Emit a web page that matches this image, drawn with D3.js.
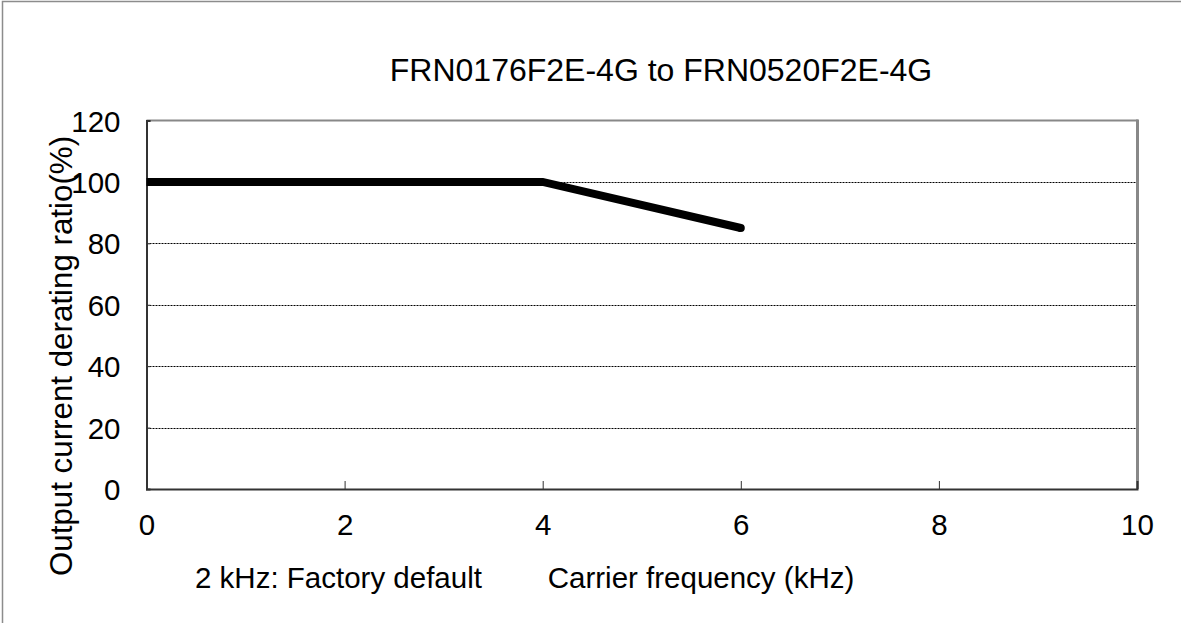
<!DOCTYPE html>
<html><head><meta charset="utf-8">
<script src="https://cdn.jsdelivr.net/npm/d3@7"></script>
<style>
html,body{margin:0;padding:0;background:#fff;}
svg{display:block;font-family:"Liberation Sans",Arial,sans-serif;}
</style></head>
<body>
<svg id="c" width="1181" height="623"></svg>
<script>
const freq = [0, 4, 6];
const ratio = [100, 100, 85];
const xTicks = [0, 2, 4, 6, 8, 10];
const yTicks = [0, 20, 40, 60, 80, 100, 120];
const gridVals = [20, 40, 60, 80, 100];
const title = "FRN0176F2E-4G to FRN0520F2E-4G";
const xLabel = "Carrier frequency (kHz)";
const yLabel = "Output current derating ratio(%)";
const note = "2 kHz: Factory default";

const svg = d3.select("#c");
const L = 146.5, T = 120.5, R = 1137, B = 489;
const x = d3.scaleLinear().domain([0, 10]).range([L, R]);
const y = d3.scaleLinear().domain([0, 120]).range([B, T]);

// outer frame (only left & top visible)
svg.append("path").attr("d", "M2.5,700 L2.5,1.5 L1300,1.5")
  .attr("fill", "none").attr("stroke", "#8c8c8c").attr("stroke-width", 1.5);

// grid
svg.append("g").selectAll("line").data(gridVals).join("line")
  .attr("x1", L).attr("x2", R).attr("y1", d => Math.round(y(d)) + 0.5).attr("y2", d => Math.round(y(d)) + 0.5)
  .attr("stroke", "#000").attr("stroke-width", 1).attr("stroke-dasharray", "2,1");

// top and right border
svg.append("line").attr("x1", L).attr("x2", R + 1).attr("y1", T).attr("y2", T)
  .attr("stroke", "#888").attr("stroke-width", 2);
svg.append("line").attr("x1", R + 0.5).attr("x2", R + 0.5).attr("y1", T - 1).attr("y2", B)
  .attr("stroke", "#888").attr("stroke-width", 3);

// axes
const xAxis = d3.axisBottom(x).tickValues(xTicks).tickSize(-8).tickPadding(46).tickFormat(d3.format("d"));
const gx = svg.append("g").attr("transform", `translate(0,${B})`).call(xAxis);
gx.attr("font-size", null).attr("font-family", null);
gx.select(".domain").attr("stroke", "#333").attr("stroke-width", 2);
gx.selectAll(".tick line").attr("stroke", "#333").attr("stroke-width", 1);
gx.selectAll(".tick text").style("font-size", "29.5px").attr("fill", "#000").attr("dy", "0");

const yAxis = d3.axisLeft(y).tickValues(yTicks).tickSize(-4).tickPadding(26).tickFormat(d3.format("d"));
const gy = svg.append("g").attr("transform", `translate(${L},0)`).call(yAxis);
gy.attr("font-size", null).attr("font-family", null);
gy.select(".domain").attr("stroke", "#333").attr("stroke-width", 2);
gy.selectAll(".tick line").attr("stroke", "#333").attr("stroke-width", 1);
gy.selectAll(".tick text").style("font-size", "29.5px").attr("fill", "#000").attr("dy", "0.36em");

// data line
const pts = freq.map((f, i) => [f, ratio[i]]);
svg.append("path").datum(pts)
  .attr("d", d3.line().x(d => x(d[0])).y(d => y(d[1])))
  .attr("fill", "none").attr("stroke", "#000").attr("stroke-width", 8).attr("stroke-linejoin", "miter");
svg.append("circle").attr("cx", x(freq[freq.length - 1])).attr("cy", y(ratio[ratio.length - 1])).attr("r", 4).attr("fill", "#000");

// texts
svg.append("text").attr("x", 661).attr("y", 81).attr("text-anchor", "middle")
  .style("font-size", "32px").text(title);
svg.append("text").attr("x", 701).attr("y", 588).attr("text-anchor", "middle")
  .style("font-size", "29.5px").text(xLabel);
svg.append("text").attr("x", 195).attr("y", 588).attr("text-anchor", "start")
  .style("font-size", "29.5px").text(note);
svg.append("text").attr("transform", "translate(72,356) rotate(-90)").attr("text-anchor", "middle")
  .style("font-size", "31.3px").text(yLabel);
</script>
</body></html>
